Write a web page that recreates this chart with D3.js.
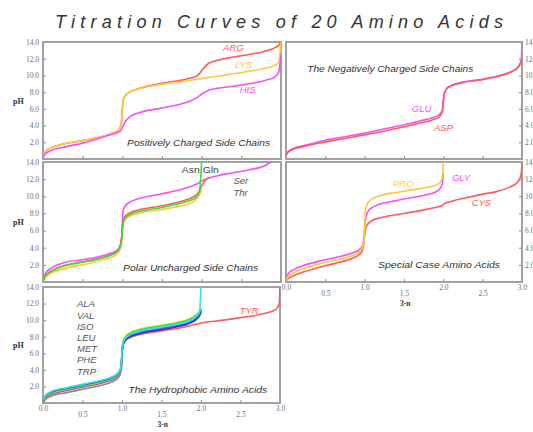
<!DOCTYPE html>
<html>
<head>
<meta charset="utf-8">
<script src="https://cdn.jsdelivr.net/npm/d3@7"></script>
<style>
  body { margin: 0; background: #fff; }
  .tick text { font-family: "Liberation Serif", serif; font-size: 7.5px; fill: #707070; }
  .tick line { stroke: #888; }
</style>
</head>
<body>
<div class="chart-container"></div>
<script>
// ---- data (x = equivalents of base, 0..3 ; pH values) ----
var gridPos = [0,0.03,0.1,0.28,0.5,0.7,0.85,0.93,0.97,0.99,1.0,1.01,1.04,1.1,1.2,1.5,1.7,1.85,1.95,2.02,2.08,2.2,2.4,2.6,2.8,2.92,2.97,3.0];
var ARG = [0.3,0.9,1.3,1.85,2.2,2.6,3.0,3.3,3.7,4.5,6.0,7.0,7.6,8.05,8.4,9.05,9.35,9.65,10.0,10.8,11.4,11.8,12.2,12.5,12.9,13.3,13.6,14];
var LYS = [0.3,0.9,1.3,1.85,2.2,2.6,3.0,3.3,3.7,4.5,6.0,7.0,7.6,8.05,8.4,8.95,9.2,9.4,9.55,9.65,9.75,9.9,10.2,10.5,10.85,11.2,11.6,14];
var HIS = [0.2,0.6,1.0,1.45,1.9,2.45,2.9,3.15,3.3,3.55,3.75,3.95,4.5,5.1,5.5,6.1,6.5,6.9,7.4,7.9,8.2,8.45,8.7,9.0,9.4,9.8,10.4,12.5];

var gridNeg = [0,0.03,0.1,0.2,0.5,0.8,1.0,1.3,1.5,1.7,1.85,1.95,1.99,2.0,2.01,2.04,2.1,2.25,2.5,2.7,2.85,2.95,2.99,3.0];
var GLU = [0.4,0.9,1.3,1.55,2.25,2.75,3.1,3.7,4.1,4.55,4.9,5.3,6.0,6.9,7.8,8.4,8.8,9.2,9.55,9.95,10.4,11.0,11.8,14];
var ASP = [0.4,0.85,1.2,1.45,2.05,2.55,2.9,3.45,3.85,4.3,4.65,5.05,5.8,6.8,7.7,8.35,8.75,9.15,9.5,9.9,10.35,10.95,11.7,12.0];

var gridPolar = [0,0.03,0.1,0.28,0.5,0.7,0.85,0.93,0.97,0.99,1.0,1.01,1.04,1.1,1.2,1.5,1.7,1.85,1.93,1.97,2.0,2.05,2.1,2.2,2.4,2.6,2.8,2.87];
var ASN = [0.05,0.5,1.0,1.6,2.0,2.45,2.85,3.25,3.8,4.6,5.8,6.7,7.3,7.7,8.0,8.45,8.8,9.2,9.6,10.1,10.8,null,null,null,null,null,null,null];
var GLN = [0.1,0.7,1.2,1.9,2.3,2.7,3.1,3.5,4.0,4.8,6.0,6.9,7.5,7.9,8.2,8.7,9.1,9.5,9.9,10.5,14,null,null,null,null,null,null,null];
var THR = [0.1,0.75,1.25,1.95,2.35,2.75,3.15,3.55,4.1,5.0,6.2,7.1,7.7,8.1,8.4,8.9,9.3,9.75,10.15,10.6,11.2,11.9,12.15,null,null,null,null,null];
var SER = [0.1,1.0,1.6,2.3,2.6,2.95,3.35,3.7,4.2,5.2,7.0,8.3,8.9,9.35,9.7,10.3,10.7,11.1,11.4,11.6,11.8,12.0,12.15,12.4,12.75,13.1,13.6,14];

var gridSpecial = [0,0.03,0.1,0.2,0.5,0.7,0.85,0.93,0.97,0.99,1.0,1.01,1.03,1.08,1.2,1.4,1.6,1.8,1.9,1.96,1.99,2.0,2.1,2.3,2.5,2.7,2.85,2.95,2.99,3.0];
var CYS = [0.05,0.4,0.75,1.1,1.9,2.35,2.8,3.2,3.7,4.5,5.5,6.2,6.6,7.1,7.5,7.85,8.15,8.5,8.7,8.85,8.95,9.05,9.4,9.85,10.25,10.6,11.1,11.7,12.6,14];
var PRO = [0.05,0.7,1.1,1.5,2.3,2.7,3.1,3.5,4.0,4.8,6.5,8.3,9.0,9.6,10.1,10.45,10.75,11.05,11.3,11.6,12.3,14,null,null,null,null,null,null,null,null];
var GLY = [0.3,1.0,1.45,1.85,2.6,3.0,3.4,3.75,4.2,5.0,6.2,7.3,8.0,8.6,9.1,9.5,9.85,10.2,10.5,10.9,11.6,12.7,null,null,null,null,null,null,null,null];

var gridHydro = [0,0.03,0.1,0.3,0.5,0.7,0.85,0.93,0.97,0.99,1.0,1.01,1.04,1.1,1.2,1.5,1.7,1.85,1.93,1.98,2.0,2.2,2.5,2.8,2.95,2.99,3.0];
var TYR = [0.15,0.7,1.15,1.65,2.05,2.45,2.85,3.25,3.7,4.3,5.9,6.9,7.5,7.9,8.2,8.7,9.0,9.3,9.5,9.6,9.65,9.9,10.3,10.8,11.3,12.0,14];
var PHE = [0.05,0.4,0.8,1.25,1.65,2.05,2.45,2.85,3.3,4.0,5.8,6.9,7.6,8.1,8.45,9.0,9.35,9.75,10.2,10.7,11.2];
var TRP = [0.1,0.55,1.0,1.5,1.9,2.3,2.7,3.1,3.55,4.2,5.9,7.0,7.6,8.1,8.45,9.0,9.35,9.75,10.2,10.7,11.2];
var MET = [0.15,0.65,1.1,1.6,2.0,2.4,2.8,3.2,3.65,4.3,5.9,7.0,7.65,8.15,8.5,9.05,9.4,9.8,10.25,10.75,11.2];
var LEU = [0.2,0.7,1.15,1.65,2.05,2.45,2.85,3.25,3.7,4.4,6.1,7.3,8.0,8.5,8.85,9.4,9.75,10.15,10.6,11.1,11.6];
var ISO = [0.2,0.75,1.2,1.7,2.1,2.5,2.9,3.3,3.75,4.4,6.0,7.2,7.9,8.4,8.75,9.3,9.65,10.05,10.5,11.0,11.4];
var VAL = [0.25,0.85,1.3,1.8,2.2,2.6,3.0,3.4,3.85,4.5,5.9,6.9,7.5,7.95,8.3,8.85,9.2,9.6,10.0,10.5,11.0];
var ALA = [0.3,0.9,1.35,1.85,2.25,2.65,3.05,3.45,3.9,4.6,6.0,7.1,7.75,8.25,8.6,9.15,9.5,9.9,10.35,10.9,14];

var hydroNames = ["ALA","VAL","ISO","LEU","MET","PHE","TRP"];
var xTicks = [0,0.5,1,1.5,2,2.5,3];
var yTicks = [2,4,6,8,10,12,14];

// ---- styles / layout ----
var red = "#ff5a5a", orange = "#ffc83c", magenta = "#f84ef8", green = "#3ddc3d";

var width = 533, height = 432;
var svg = d3.select(".chart-container").append("svg")
    .attr("width", width)
    .attr("height", height);

svg.append("text")
    .attr("x", 55).attr("y", 28)
    .attr("textLength", 448).attr("lengthAdjust", "spacing")
    .style("font-family", "'Liberation Sans', Arial, sans-serif")
    .style("font-size", "18px").style("font-style", "italic")
    .style("fill", "#333")
    .text("Titration Curves of 20 Amino Acids");

var panels = [
  {id: "pos", left: 43, right: 281, top: 42, bottom: 159, side: "left", xLabels: false, grid: gridPos,
   series: [[ARG, red], [LYS, orange], [HIS, magenta]],
   notes: [["ARG", 2.27, 12.98, red, true], ["LYS", 2.42, 10.83, orange, true], ["HIS", 2.48, 7.84, magenta, true],
           ["Positively Charged Side Chains", 1.06, 1.5, "#333", true, 143]]},
  {id: "neg", left: 286, right: 522, top: 42, bottom: 159, side: "right", xLabels: false, grid: gridNeg,
   series: [[GLU, magenta], [ASP, red]],
   notes: [["GLU", 1.6, 5.68, magenta, true], ["ASP", 1.88, 3.41, red, true],
           ["The Negatively Charged Side Chains", 0.27, 10.47, "#333", true, 166]]},
  {id: "polar", left: 43, right: 281, top: 162, bottom: 282, side: "left", xLabels: false, grid: gridPolar,
   series: [[ASN, orange], [SER, magenta], [THR, red], [GLN, green]],
   notes: [["Asn Gln", 1.75, 12.66, "#444", false, 37], ["Ser", 2.4, 11.49, "#555", true], ["Thr", 2.4, 10.09, "#555", true],
           ["Polar Uncharged Side Chains", 1.01, 1.34, "#333", true, 135]]},
  {id: "special", left: 286, right: 522, top: 162, bottom: 282, side: "right", xLabels: true, grid: gridSpecial,
   series: [[CYS, red], [GLY, magenta], [PRO, orange]],
   notes: [["PRO", 1.36, 11.14, orange, true], ["GLY", 2.11, 11.73, magenta, true], ["CYS", 2.36, 8.81, red, true],
           ["Special Case Amino Acids", 1.17, 1.58, "#333", true, 122]]},
  {id: "hydro", left: 43, right: 280, top: 287, bottom: 403, side: "left", xLabels: true, grid: gridHydro,
   series: [[TYR, red], [PHE, "#8a8a8a"], [TRP, "#e0509a"], [MET, "#7a3fd0"], [LEU, "#d8e830"], [ISO, green], [VAL, "#2340d0"], [ALA, "#30e0f8"]],
   notes: [["TYR", 2.49, 10.8, red, true], ["The Hydrophobic Amino Acids", 1.08, 1.15, "#333", true, 139]]
     .concat(hydroNames.map(function(n, i) { return [n, 0.43, 11.53 - i * 1.352, "#555", true]; }))}
];

panels.forEach(function(p) {
  var x = d3.scaleLinear().domain([0, 3]).range([p.left, p.right]);
  var y = d3.scaleLinear().domain([0, 14]).range([p.bottom, p.top]);
  var g = svg.append("g").attr("class", "panel " + p.id);

  g.append("defs").append("clipPath").attr("id", "clip-" + p.id)
    .append("rect")
      .attr("x", p.left).attr("y", p.top - 1)
      .attr("width", p.right - p.left).attr("height", p.bottom - p.top + 1);

  // axes
  var yAxis = (p.side === "left" ? d3.axisLeft(y) : d3.axisRight(y))
      .tickValues(yTicks).tickSize(-3).tickPadding(p.side === "left" ? 4 : 3)
      .tickFormat(d3.format(".1f"));
  g.append("g").attr("class", "y axis")
      .attr("transform", "translate(" + (p.side === "left" ? p.left : p.right) + ",0)")
      .call(yAxis);

  var xAxis = d3.axisBottom(x).tickValues(xTicks).tickSize(-3).tickPadding(4)
      .tickFormat(p.xLabels ? d3.format(".1f") : "");
  var xa = g.append("g").attr("class", "x axis")
      .attr("transform", "translate(0," + p.bottom + ")")
      .call(xAxis);
  xa.selectAll(".tick text").attr("dy", function(d) { return (d % 1 === 0) ? "0.55em" : "1.35em"; });
  g.selectAll(".axis .domain").remove();

  g.append("rect")
    .attr("x", p.left).attr("y", p.top)
    .attr("width", p.right - p.left).attr("height", p.bottom - p.top)
    .attr("fill", "none").attr("stroke", "#a0a0a0").attr("stroke-width", 2);

  var line = d3.line()
      .defined(function(d) { return d[1] != null; })
      .x(function(d) { return x(d[0]); })
      .y(function(d) { return y(d[1]); })
      .curve(d3.curveMonotoneX);

  g.append("g").attr("clip-path", "url(#clip-" + p.id + ")")
    .selectAll("path")
    .data(p.series)
    .enter().append("path")
      .attr("d", function(s) {
        var pts = p.grid.map(function(v, i) { return [v, s[0][i] == null ? null : s[0][i]]; })
                        .filter(function(d, i) { return i < s[0].length; });
        return line(pts);
      })
      .attr("fill", "none")
      .attr("stroke", function(s) { return s[1]; })
      .attr("stroke-width", 1.6);

  g.selectAll("text.note")
    .data(p.notes)
    .enter().append("text")
      .attr("class", "note")
      .attr("x", function(d) { return x(d[1]); })
      .attr("y", function(d) { return y(d[2]); })
      .attr("textLength", function(d) { return d[5] || null; })
      .attr("lengthAdjust", "spacingAndGlyphs")
      .style("font-family", "'Liberation Sans', Arial, sans-serif")
      .style("font-size", "9.5px")
      .style("font-style", function(d) { return d[4] ? "italic" : "normal"; })
      .style("fill", function(d) { return d[3]; })
      .text(function(d) { return d[0]; });

  if (p.side === "left") {
    g.append("text")
      .attr("x", 13).attr("y", y(7) + 3)
      .style("font-family", "'Liberation Serif', serif").style("font-weight", "bold")
      .style("font-size", "8px").style("fill", "#333")
      .text("pH");
  }
  if (p.xLabels) {
    g.append("text")
      .attr("x", x(1.45)).attr("y", p.bottom + 24)
      .style("font-family", "'Liberation Serif', serif").style("font-weight", "bold")
      .style("font-size", "7.5px").style("fill", "#333")
      .text("3-n");
  }
});
</script>
</body>
</html>
